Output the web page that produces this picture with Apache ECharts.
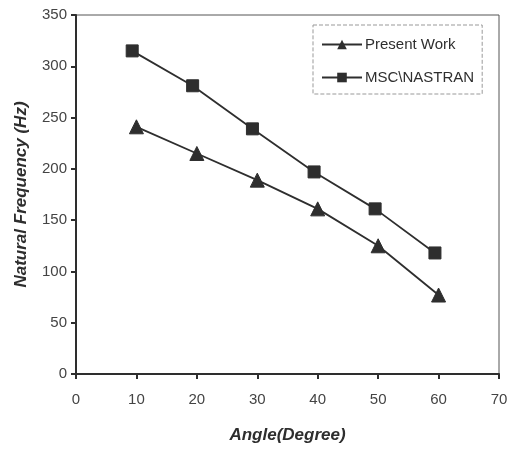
<!DOCTYPE html>
<html>
<head>
<meta charset="utf-8">
<script src="https://cdn.jsdelivr.net/npm/echarts@6/dist/echarts.min.js"></script>
<style>
  html, body { margin: 0; padding: 0; background: #fff; }
  #main { width: 514px; height: 449px; }
</style>
</head>
<body>
<div id="main"></div>
<script>
var myChart = echarts.init(document.getElementById('main'));

// angles (the square markers sit a little left of the ticks)
var presentAngle = [10, 20, 30, 40, 50, 60];
var presentFreq = [241, 215, 189, 161, 125, 77];
var nastranAngle = [9.3, 19.3, 29.2, 39.4, 49.5, 59.4];
var nastranFreq = [315, 281, 239, 197, 161, 118];

var xTicks = [0, 10, 20, 30, 40, 50, 60, 70];
var yTicks = [0, 50, 100, 150, 200, 250, 300, 350];

function pairs(xs, ys) {
    var res = [];
    for (var i = 0; i < xs.length; i++) {
        res.push([xs[i], ys[i]]);
    }
    return res;
}

var ink = '#2e2e2e';

option = {
    backgroundColor: '#fff',
    animation: false,
    grid: {
        left: 76,
        right: 15,
        top: 15,
        bottom: 74,
        show: true,
        borderColor: '#555',
        borderWidth: 1
    },
    legend: {
        orient: 'vertical',
        left: 313,
        top: 25,
        width: 160,
        padding: [12, 8, 9, 8],
        itemGap: 18,
        itemWidth: 40,
        itemHeight: 12,
        borderColor: '#999',
        borderWidth: 1,
        borderType: 'dashed',
        textStyle: {
            fontFamily: 'Liberation Sans',
            fontSize: 15,
            color: ink,
            padding: [0, 0, 0, -2]
        },
        data: ['Present Work', 'MSC\\NASTRAN']
    },
    xAxis: {
        type: 'value',
        min: xTicks[0],
        max: xTicks[xTicks.length - 1],
        interval: 10,
        name: 'Angle(Degree)',
        nameLocation: 'middle',
        nameGap: 53,
        nameTextStyle: {
            fontFamily: 'Liberation Sans',
            fontSize: 17,
            fontWeight: 'bold',
            fontStyle: 'italic',
            color: ink
        },
        axisLine: { lineStyle: { color: ink, width: 2 } },
        axisTick: { show: true, length: 5, lineStyle: { color: ink, width: 2 } },
        axisLabel: {
            margin: 18,
            fontFamily: 'Liberation Sans',
            fontSize: 15,
            color: '#444'
        },
        splitLine: { show: false }
    },
    yAxis: {
        type: 'value',
        min: yTicks[0],
        max: yTicks[yTicks.length - 1],
        interval: 50,
        name: 'Natural Frequency (Hz)',
        nameLocation: 'middle',
        nameGap: 46,
        nameTextStyle: {
            fontFamily: 'Liberation Sans',
            fontSize: 17,
            fontWeight: 'bold',
            fontStyle: 'italic',
            color: ink
        },
        axisLine: { lineStyle: { color: ink, width: 2 } },
        axisTick: { show: true, length: 5, lineStyle: { color: ink, width: 2 } },
        axisLabel: {
            margin: 9,
            fontFamily: 'Liberation Sans',
            fontSize: 15,
            color: '#444'
        },
        splitLine: { show: false }
    },
    series: [{
        name: 'Present Work',
        type: 'line',
        data: pairs(presentAngle, presentFreq),
        symbol: 'triangle',
        symbolSize: 14,
        lineStyle: { color: ink, width: 1.8 },
        itemStyle: { color: ink, borderColor: ink }
    }, {
        name: 'MSC\\NASTRAN',
        type: 'line',
        data: pairs(nastranAngle, nastranFreq),
        symbol: 'rect',
        symbolSize: 12,
        lineStyle: { color: ink, width: 1.8 },
        itemStyle: { color: ink, borderColor: ink }
    }]
};

myChart.setOption(option);
</script>
</body>
</html>
